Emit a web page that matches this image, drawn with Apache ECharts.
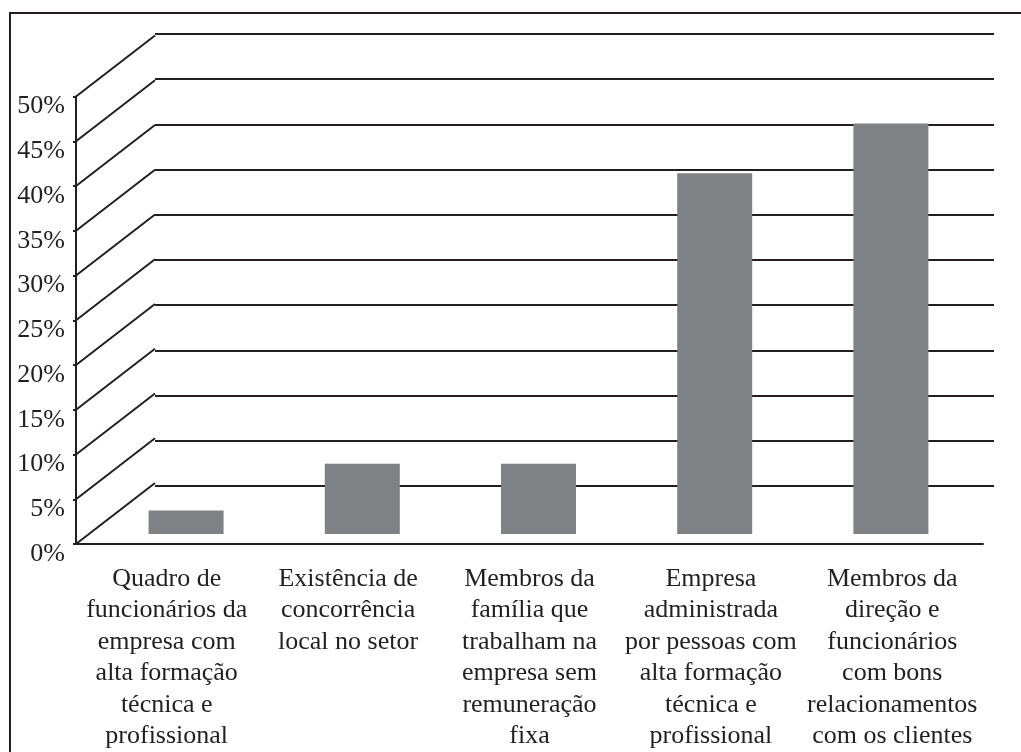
<!DOCTYPE html>
<html>
<head>
<meta charset="utf-8">
<script src="https://cdn.jsdelivr.net/npm/echarts@6/dist/echarts.min.js"></script>
<style>
  html, body { margin: 0; padding: 0; background: #fff; }
  #chart { width: 1021px; height: 752px; }
</style>
</head>
<body>
<div id="chart"></div>
<script>
// categorias (quebras de linha como no original)
const categories = [
  'Quadro de\nfuncionários da\nempresa com\nalta formação\ntécnica e\nprofissional',
  'Existência de\nconcorrência\nlocal no setor',
  'Membros da\nfamília que\ntrabalham na\nempresa sem\nremuneração\nfixa',
  'Empresa\nadministrada\npor pessoas com\nalta formação\ntécnica e\nprofissional',
  'Membros da\ndireção e\nfuncionários\ncom bons\nrelacionamentos\ncom os clientes',
]
const values = [2.6, 7.8, 7.8, 40.0, 45.5]
const yTicks = [0, 5, 10, 15, 20, 25, 30, 35, 40, 45, 50]

const ink = '#231f20'
const font = 'Liberation Serif'

let option = {
  animation: false,
  backgroundColor: '#fff',
  textStyle: { fontFamily: font, color: ink },
  graphic: [
    {
      type: 'rect',
      shape: { x: 10, y: 13, width: 1030, height: 780 },
      style: { fill: 'none', stroke: ink, lineWidth: 2 },
      silent: true,
    },
  ],
  grid: [
    // parede do fundo
    { left: 155, right: 27, top: 34, bottom: 266 },
    // eixo da frente
    { left: 76, right: 38, top: 96.5, bottom: 205 },
    // barras
    { left: 98, right: 42, top: 83, bottom: 218 },
  ],
  xAxis: [
    { gridIndex: 0, type: 'category', data: categories, show: false },
    {
      gridIndex: 1,
      type: 'category',
      data: categories,
      axisLine: { lineStyle: { color: ink, width: 2 } },
      axisTick: { length: 6, lineStyle: { color: ink, width: 2 } },
      axisLabel: {
        interval: 0,
        margin: 19,
        fontSize: 26,
        lineHeight: 31.5,
        color: ink,
        fontFamily: font,
        align: 'center',
      },
    },
    { gridIndex: 2, type: 'category', data: categories, show: false },
  ],
  yAxis: [
    {
      gridIndex: 0,
      type: 'value',
      min: 0,
      max: 50,
      interval: 5,
      axisLine: { show: false },
      axisTick: { show: false },
      axisLabel: { show: false },
      splitLine: { show: true, lineStyle: { color: ink, width: 2 } },
    },
    {
      gridIndex: 1,
      type: 'value',
      min: 0,
      max: 50,
      interval: 5,
      axisLine: { show: true, lineStyle: { color: ink, width: 2 } },
      axisTick: { show: true, length: 3, lineStyle: { color: ink, width: 2 } },
      splitLine: { show: false },
      axisLabel: {
        margin: 11,
        color: ink,
        fontFamily: font,
        formatter: (v) => `{p|${v}%}`,
        rich: {
          p: { fontSize: 26, fontFamily: font, color: ink, padding: [20, 0, 0, 0] },
        },
      },
    },
    { gridIndex: 2, type: 'value', min: 0, max: 50, show: false, splitLine: { show: false } },
  ],
  series: [
    {
      // linhas diagonais do eixo da frente até a parede
      type: 'custom',
      xAxisIndex: 1,
      yAxisIndex: 1,
      silent: true,
      renderItem: (params, api) => {
        const y = api.coord([0, api.value(1)])[1]
        const x = params.coordSys.x
        return {
          type: 'line',
          shape: { x1: x, y1: y, x2: x + 79, y2: y - 61 },
          style: { stroke: ink, lineWidth: 2 },
        }
      },
      data: yTicks.map((v) => [0, v]),
      z: 1,
    },
    {
      type: 'bar',
      xAxisIndex: 2,
      yAxisIndex: 2,
      barWidth: 75,
      itemStyle: { color: '#808184' },
      data: values,
      z: 3,
    },
  ],
}
let myChart = echarts.init(document.getElementById('chart'))
myChart.setOption(option)
</script>
</body>
</html>
